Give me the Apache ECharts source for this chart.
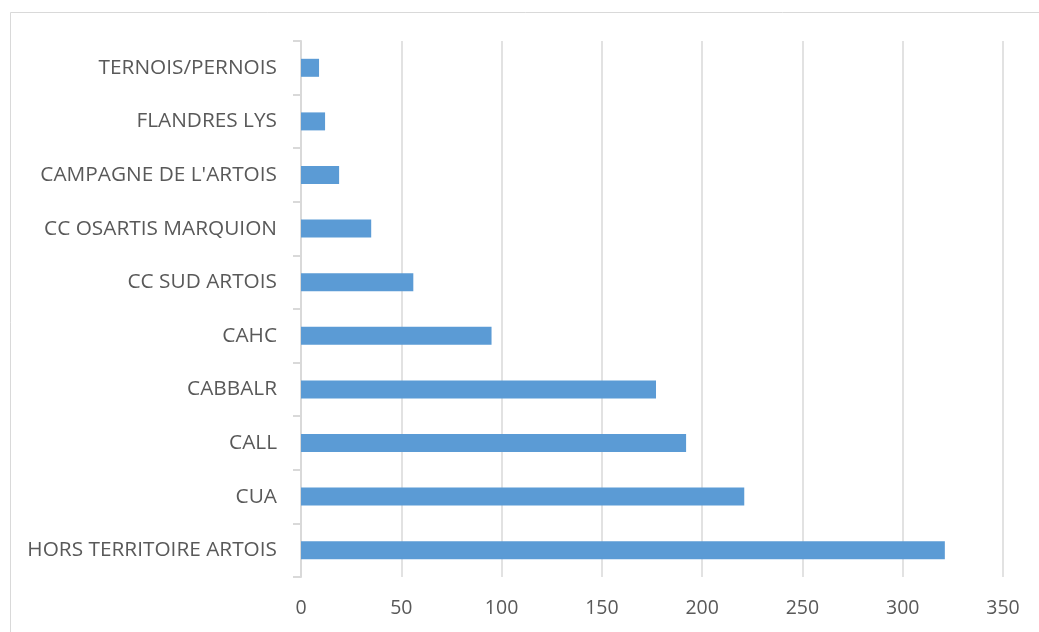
<!DOCTYPE html>
<html>
<head>
<meta charset="utf-8">
<script src="https://cdn.jsdelivr.net/npm/echarts@6/dist/echarts.min.js"></script>
<style>
html,body{margin:0;padding:0;background:#fff;}
#chart{width:1039px;height:632px;}
</style>
</head>
<body>
<div id="chart"></div>
<script>
const categories = ["HORS TERRITOIRE ARTOIS","CUA","CALL","CABBALR","CAHC","CC SUD ARTOIS","CC OSARTIS MARQUION","CAMPAGNE DE L'ARTOIS","FLANDRES LYS","TERNOIS/PERNOIS"];
const values = [321,221,192,177,95,56,35,19,12,9];
const xTicks = [0,50,100,150,200,250,300,350];

const chart = echarts.init(document.getElementById('chart'), null, {renderer:'canvas'});
const font = "'Open Sans', 'DejaVu Sans', sans-serif";
chart.setOption({
  animation:false,
  backgroundColor:'#ffffff',
  graphic:[{
    type:'rect', shape:{x:10.5,y:12.5,width:1040,height:640},
    style:{fill:'none',stroke:'#d9d9d9',lineWidth:1}, silent:true, z:-1
  }],
  grid:{left:301,right:36,top:41,bottom:55,containLabel:false},
  xAxis:{
    type:'value', min:xTicks[0], max:xTicks[xTicks.length-1], interval:50,
    axisLine:{show:false}, axisTick:{show:false},
    splitLine:{show:true,lineStyle:{color:'#d9d9d9',width:1.5}},
    axisLabel:{color:'#595959',fontFamily:font,fontSize:19.5,margin:21}
  },
  yAxis:{
    type:'category', data:categories,
    axisLine:{show:true,lineStyle:{color:'#d9d9d9',width:2}},
    axisTick:{show:true,length:8,lineStyle:{color:'#d9d9d9',width:2}},
    axisLabel:{color:'#595959',fontFamily:font,fontSize:20.8,margin:24},
    splitLine:{show:false}
  },
  series:[{
    type:'bar', data:values, barWidth:18,
    itemStyle:{color:'#5b9bd5'}
  }]
});
</script>
</body>
</html>
